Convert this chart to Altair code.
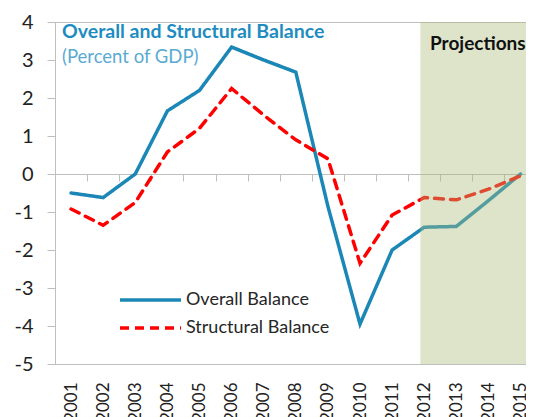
import altair as alt
import pandas as pd

years = list(range(2001, 2016))
overall = [-0.5, -0.62, 0.0, 1.66, 2.2, 3.34, 3.0, 2.68, -0.85, -3.95, -2.0, -1.4, -1.38, -0.7, 0.0]
structural = [-0.92, -1.35, -0.75, 0.58, 1.2, 2.25, 1.55, 0.9, 0.4, -2.35, -1.08, -0.62, -0.68, -0.4, -0.05]
series_names = ["Overall Balance", "Structural Balance"]
series_colors = ["#1B87B6", "#FF0000"]
y_ticks = list(range(-5, 5))
boundary_ticks = [y + 0.5 for y in years[:-1]]
proj_start = [2011.88]
proj_end = [2015.17]
title_text = "Overall and Structural  Balance"
subtitle_text = "(Percent of GDP)"
proj_text = "Projections"

df = pd.DataFrame({
    "year": years + years,
    "value": overall + structural,
    "series": [series_names[0]] * len(years) + [series_names[1]] * len(years),
})
shade_df = pd.DataFrame({"start": proj_start, "end": proj_end, "lo": [-5], "hi": [4]})

FONT = "Lato"
GRAY = "#BFBFBF"
x_scale = alt.Scale(domain=[2000.5, 2015.17], nice=False, zero=False)
y_scale = alt.Scale(domain=[-5, 4], nice=False, zero=False)
y_axis = alt.Axis(values=y_ticks, labelExpr="'' + datum.value", labelOverlap=False,
                  tickSize=8, tickColor=GRAY, domainColor=GRAY,
                  labelFontSize=20, labelPadding=14, grid=False, title=None,
                  labelColor="#222222", labelFont=FONT)

lines = alt.Chart(df).mark_line(strokeWidth=3.5, strokeCap="round").encode(
    x=alt.X("year:Q", scale=x_scale,
            axis=alt.Axis(orient="bottom", values=years, format="d", labelAngle=270,
                          ticks=False, labelFontSize=17, labelPadding=18, grid=False,
                          title=None, domainColor=GRAY, labelColor="#222222", labelFont=FONT)),
    y=alt.Y("value:Q", scale=y_scale, axis=y_axis),
    color=alt.Color("series:N", scale=alt.Scale(domain=series_names, range=series_colors), legend=None),
    strokeDash=alt.StrokeDash("series:N", scale=alt.Scale(domain=series_names, range=[[1, 0], [9, 7]]), legend=None),
)

shade = alt.Chart(shade_df).mark_rect(color="#ACBB7A", opacity=0.4).encode(
    x=alt.X("start:Q", scale=x_scale,
            axis=alt.Axis(orient="bottom", offset=-190, values=boundary_ticks, labels=False,
                          tickSize=7, tickColor=GRAY, domainColor=GRAY, grid=False, title=None)),
    x2="end:Q",
    y=alt.Y("lo:Q", scale=y_scale, axis=y_axis),
    y2="hi:Q",
)

def label(text, x, y, size, color, weight="normal"):
    return alt.Chart(pd.DataFrame({"t": [text]})).mark_text(
        align="left", baseline="middle", fontSize=size, font=FONT, fontWeight=weight, color=color
    ).encode(x=alt.value(x), y=alt.value(y), text="t:N")

title = label(title_text, 7, 10, 19.5, "#1E8CC0", "bold")
subtitle = label(subtitle_text, 7, 35, 18.5, "#5AAAD2")
proj = label(proj_text, 375, 22, 19, "#111111", "bold")

leg_line1 = alt.Chart(pd.DataFrame({"s": [series_names[0]]})).mark_rule(
    color=series_colors[0], strokeWidth=3.5).encode(x=alt.value(65), x2=alt.value(126), y=alt.value(278))
leg_line2 = alt.Chart(pd.DataFrame({"s": [series_names[1]]})).mark_rule(
    color=series_colors[1], strokeWidth=3.5, strokeDash=[9, 6]).encode(x=alt.value(65), x2=alt.value(126), y=alt.value(306))
leg_text1 = label(series_names[0], 131, 278, 18, "#262626")
leg_text2 = label(series_names[1], 131, 306, 18, "#262626")

chart = alt.layer(
    lines, shade, title, subtitle, proj, leg_line1, leg_line2, leg_text1, leg_text2
).resolve_axis(x="independent").properties(
    width=471, height=342,
    padding={"left": 47, "top": 14, "right": 0, "bottom": 53},
    autosize=alt.AutoSizeParams(type="none"),
).configure_view(stroke=GRAY, strokeWidth=1).configure_axisY(labelOverlap=False)

chart.save("out.html", embed_options={"renderer": "svg", "actions": False})
